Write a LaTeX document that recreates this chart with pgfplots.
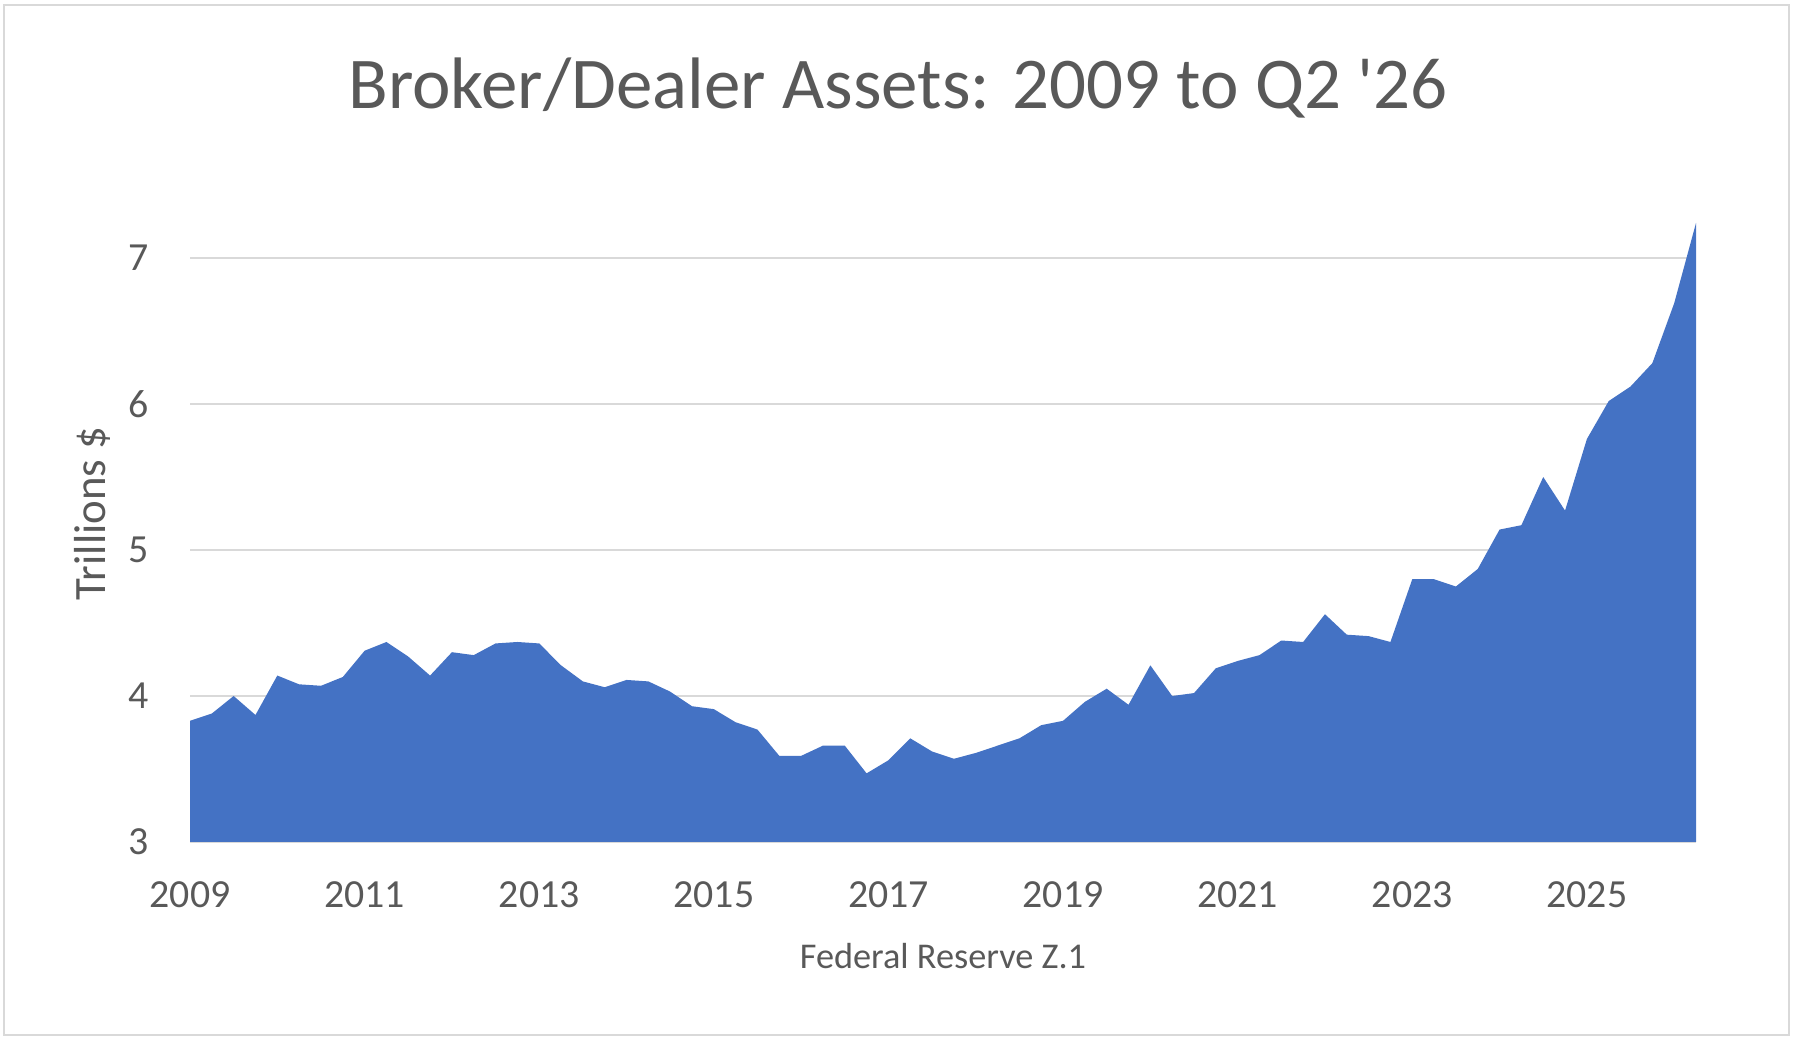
\documentclass[border=0pt]{standalone}
\usepackage{fontspec}
\setmainfont{Carlito}
\usepackage{pgfplots}
\pgfplotsset{compat=1.18}

\definecolor{areaBlue}{RGB}{68,114,196}
\definecolor{textGray}{RGB}{89,89,89}
\definecolor{gridGray}{RGB}{217,217,217}

\pgfplotstableread{
x        y
2009.00  3.83
2009.25  3.88
2009.50  4.00
2009.75  3.87
2010.00  4.14
2010.25  4.08
2010.50  4.07
2010.75  4.13
2011.00  4.31
2011.25  4.37
2011.50  4.27
2011.75  4.14
2012.00  4.30
2012.25  4.28
2012.50  4.36
2012.75  4.37
2013.00  4.36
2013.25  4.21
2013.50  4.10
2013.75  4.06
2014.00  4.11
2014.25  4.10
2014.50  4.03
2014.75  3.93
2015.00  3.91
2015.25  3.82
2015.50  3.77
2015.75  3.59
2016.00  3.59
2016.25  3.66
2016.50  3.66
2016.75  3.47
2017.00  3.56
2017.25  3.71
2017.50  3.62
2017.75  3.57
2018.00  3.61
2018.25  3.66
2018.50  3.71
2018.75  3.80
2019.00  3.83
2019.25  3.96
2019.50  4.05
2019.75  3.94
2020.00  4.21
2020.25  4.00
2020.50  4.02
2020.75  4.19
2021.00  4.24
2021.25  4.28
2021.50  4.38
2021.75  4.37
2022.00  4.56
2022.25  4.42
2022.50  4.41
2022.75  4.37
2023.00  4.80
2023.25  4.80
2023.50  4.75
2023.75  4.87
2024.00  5.14
2024.25  5.17
2024.50  5.50
2024.75  5.27
2025.00  5.76
2025.25  6.02
2025.50  6.12
2025.75  6.28
2026.00  6.69
2026.25  7.24
}\assets

\begin{document}
\begin{tikzpicture}
  \path[use as bounding box] (0,0) rectangle (898bp,522.5bp);
  % chart frame
  \draw[gridGray, line width=1.2bp] (2bp,5bp) rectangle (894.5bp,520bp);

  \node[anchor=base, text=textGray, font=\fontsize{36.6}{44}\selectfont]
    at (449bp,468bp) {Broker/Dealer Assets: 2009 to Q2 \textquotesingle26};

  \begin{axis}[
      at={(95bp,101.5bp)}, anchor=south west,
      scale only axis,
      width=753bp, height=328.5bp,
      xmin=2009, xmax=2026.25,
      ymin=3, ymax=7.5,
      enlargelimits=false,
      xtick={2009,2011,...,2025},
      ytick={3,4,5,6,7},
      ymajorgrids=true,
      major grid style={gridGray, line width=1bp},
      axis line style={draw=none},
      tick style={draw=none},
      /pgf/number format/1000 sep={},
      /pgf/number format/assume math mode=true,
      ticklabel style={text=textGray, font=\fontsize{20}{24}\selectfont, inner sep=0pt},
      xticklabel style={anchor=base, yshift=-33bp},
      yticklabel style={anchor=east, xshift=-20.5bp},
      xlabel={Federal Reserve Z.1},
      ylabel={Trillions \$},
      every axis x label/.style={at={(axis description cs:0.5,0)}, anchor=base,
        yshift=-63bp, text=textGray, font=\fontsize{18.2}{22}\selectfont},
      every axis y label/.style={at={(axis description cs:-0.0651,0.5)}, anchor=center,
        rotate=90, text=textGray, font=\fontsize{22.5}{27}\selectfont},
    ]
    \addplot[fill=areaBlue, draw=none] table[x=x, y=y] {\assets} \closedcycle;
  \end{axis}
\end{tikzpicture}
\end{document}
